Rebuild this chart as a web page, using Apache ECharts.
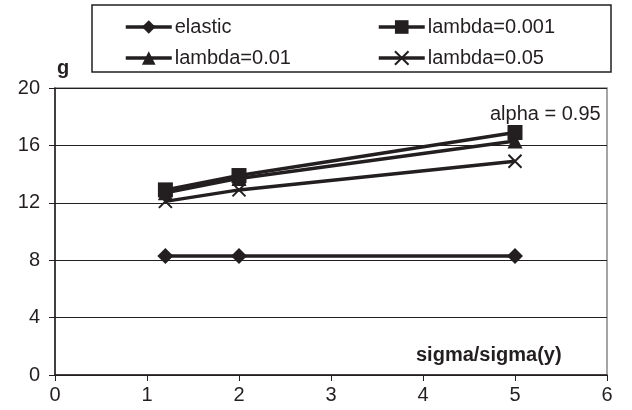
<!DOCTYPE html>
<html><head><meta charset="utf-8">
<script src="https://cdn.jsdelivr.net/npm/echarts@6/dist/echarts.min.js"></script>
<style>html,body{margin:0;padding:0;background:#fff}#c{width:632px;height:410px}</style>
</head><body><div id="c"></div>
<script>
var xValues = [1.2, 2, 5];
var seriesNames = ['elastic', 'lambda=0.001', 'lambda=0.01', 'lambda=0.05'];
var elastic = [8.3, 8.3, 8.3];
var lambda001 = [12.9, 13.9, 16.9];
var lambda01 = [12.7, 13.7, 16.3];
var lambda05 = [12.1, 12.9, 14.9];
var xTicks = [0, 1, 2, 3, 4, 5, 6];
var yTicks = [0, 4, 8, 12, 16, 20];

var F = '"Liberation Sans", Arial, sans-serif';
function pts(v){ return xValues.map(function(x,i){ return [x, v[i]]; }); }
var crossPath = 'path://M0,0L10,10M10,0L0,10';
function mk(name, data, symbol, size, extra){
  var s = {
    name: name, type: 'line', data: pts(data), symbol: symbol, symbolSize: size,
    lineStyle: {color: '#231f20', width: 3.5},
    itemStyle: {color: '#231f20', borderColor: '#231f20', borderWidth: 0},
    showAllSymbol: true, z: 3
  };
  if (extra) for (var k in extra) s[k] = extra[k];
  return s;
}
var legendCommon = {orient: 'vertical', top: 17, padding: 0, itemWidth: 46, itemHeight: 17, itemGap: 11,
  lineStyle: {width: 3.5, color: '#231f20'},
  textStyle: {fontFamily: F, fontSize: 20, color: '#231f20', padding: [2,0,0,-2]}};
function lg(data, left){ var o = {data: data, left: left}; for (var k in legendCommon) o[k] = legendCommon[k]; return o; }
var chart = echarts.init(document.getElementById('c'), null, {renderer: 'canvas'});
chart.setOption({
  animation: false,
  backgroundColor: '#fff',
  grid: {left: 55, right: 25, top: 88, bottom: 35, show: true, borderColor: '#888', borderWidth: 1.5, backgroundColor: 'transparent'},
  xAxis: {
    type: 'value', min: xTicks[0], max: xTicks[xTicks.length-1], interval: 1,
    axisLine: {show: true, onZero: false, lineStyle: {color: '#231f20', width: 1.5}},
    axisTick: {show: true, length: 6, lineStyle: {color: '#231f20'}},
    axisLabel: {color: '#231f20', fontFamily: F, fontSize: 20, margin: 10},
    splitLine: {show: false}
  },
  yAxis: {
    type: 'value', min: yTicks[0], max: yTicks[yTicks.length-1], interval: 4,
    axisLine: {show: true, onZero: false, lineStyle: {color: '#231f20', width: 1.5}},
    axisTick: {show: true, length: 6, lineStyle: {color: '#231f20'}},
    axisLabel: {color: '#231f20', fontFamily: F, fontSize: 20, margin: 15},
    splitLine: {show: true, lineStyle: {color: '#231f20', width: 1}}
  },
  legend: [
    lg([seriesNames[0], seriesNames[2]], 124),
    lg([seriesNames[1], seriesNames[3]], 377)
  ],
  graphic: [
    {type: 'rect', shape: {x: 92, y: 5, width: 519, height: 67}, style: {fill: 'none', stroke: '#231f20', lineWidth: 1.5}},
    {type: 'text', left: 57, top: 58, style: {text: 'g', font: 'bold 20px ' + F, fill: '#231f20'}},
    {type: 'text', left: 416, top: 345, style: {text: 'sigma/sigma(y)', font: 'bold 20px ' + F, fill: '#231f20'}},
    {type: 'text', left: 490, top: 104, style: {text: 'alpha = 0.95', font: '20px ' + F, fill: '#231f20'}}
  ],
  series: [
    mk(seriesNames[0], elastic, 'diamond', 16),
    mk(seriesNames[1], lambda001, 'rect', 15),
    mk(seriesNames[2], lambda01, 'triangle', 15),
    mk(seriesNames[3], lambda05, crossPath, 13, {itemStyle: {color: 'none', borderColor: '#231f20', borderWidth: 2}})
  ]
});
</script></body></html>
